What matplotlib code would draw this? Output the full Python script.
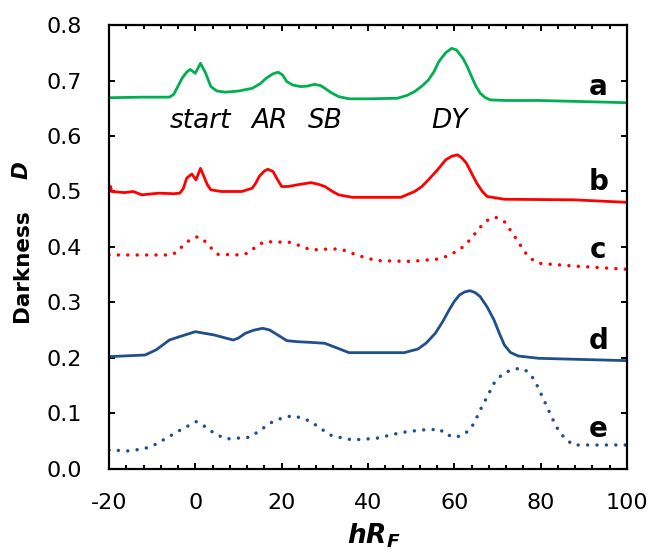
import matplotlib
matplotlib.use("Agg")
import matplotlib.pyplot as plt
from matplotlib.ticker import MultipleLocator, FormatStrFormatter

plt.rcParams['font.family'] = ['DejaVu Sans']
plt.rcParams['axes.unicode_minus'] = False
plt.rcParams['mathtext.fontset'] = 'custom'
plt.rcParams['mathtext.it'] = 'DejaVu Sans:italic:bold'
plt.rcParams['mathtext.rm'] = 'DejaVu Sans:bold'

# curve a (green, solid)
xa = [-20, -12, -6, -5, -4, -3, -2, -1.2, 0, 1.2, 2.4, 3.6, 5, 7, 10, 13.2, 15, 16.4, 18, 19.2, 20.2,
      21.2, 22.5, 24.4, 26, 27.6, 29, 30, 31.5, 33.2, 35.6, 40, 46.8, 49, 50.8, 52.5, 54, 55.3, 56.4,
      58, 59.4, 60.5, 62, 63, 64, 65, 66, 67.2, 68.4, 72, 79.6, 90, 100]
ya = [0.669, 0.670, 0.670, 0.675, 0.690, 0.705, 0.715, 0.720, 0.713, 0.731, 0.713, 0.689, 0.681, 0.679,
      0.681, 0.686, 0.694, 0.704, 0.712, 0.715, 0.710, 0.698, 0.692, 0.689, 0.690, 0.693, 0.691, 0.686,
      0.678, 0.671, 0.667, 0.667, 0.668, 0.673, 0.680, 0.690, 0.701, 0.716, 0.734, 0.750, 0.758, 0.755,
      0.740, 0.725, 0.707, 0.690, 0.677, 0.669, 0.665, 0.664, 0.664, 0.662, 0.660]

# curve b (red, solid)
xb = [-20, -19.6, -19.4, -16.4, -14.4, -12.4, -8.4, -5, -3.6, -2.8, -2, -0.8, 0.16, 1.2, 2, 2.8, 3.6,
      6, 10.8, 13.2, 14, 14.8, 16, 16.8, 18, 19, 20, 21.5, 23.6, 26.8, 28.5, 30, 31.8, 33.2, 36.4, 47.6,
      50.8, 52.5, 54, 56, 58, 59.5, 60.8, 61.8, 62.8, 64, 65.2, 66.5, 67.6, 71.6, 87.6, 100]
yb = [0.509, 0.509, 0.500, 0.498, 0.500, 0.494, 0.497, 0.496, 0.497, 0.505, 0.524, 0.5315, 0.521,
      0.5417, 0.527, 0.512, 0.503, 0.500, 0.500, 0.506, 0.515, 0.527, 0.537, 0.540, 0.536, 0.522, 0.509,
      0.509, 0.512, 0.516, 0.513, 0.509, 0.500, 0.494, 0.4895, 0.4895, 0.500, 0.509, 0.521, 0.538, 0.557,
      0.564, 0.566, 0.560, 0.551, 0.533, 0.515, 0.500, 0.491, 0.486, 0.485, 0.4805]

# curve c (red, dotted)
xc = [-20, -5.6, -4, -2.8, -1.2, 0.56, 1.8, 2.8, 4, 5.2, 10.8, 12.5, 14, 16, 19, 22, 24.4, 26.8, 30,
      33.2, 35.5, 37.2, 42, 50, 56.4, 58.5, 60.4, 62, 63.6, 65.2, 66.8, 68.2, 69.6, 71.6, 73.2, 74.8,
      76.2, 77.6, 79.6, 87.6, 100]
yc = [0.3856, 0.3856, 0.392, 0.4036, 0.413, 0.4186, 0.413, 0.4066, 0.395, 0.3868, 0.3856, 0.390,
      0.4006, 0.4096, 0.409, 0.4084, 0.4018, 0.3946, 0.396, 0.3964, 0.392, 0.3856, 0.3754, 0.374, 0.3784,
      0.384, 0.3916, 0.400, 0.4126, 0.428, 0.4426, 0.451, 0.4535, 0.4456, 0.428, 0.4096, 0.392, 0.3796,
      0.3706, 0.3658, 0.3598]

# curve d (blue, solid)
xd = [-20, -11.6, -9, -6, -3, 0, 4.4, 7, 8.8, 10, 11.6, 13.5, 15.6, 17.2, 19, 21.2, 23.6, 27, 30, 32.5,
      35.6, 48.4, 51.6, 53.5, 55.6, 57.2, 58.8, 60, 61.2, 62.4, 63.6, 64.8, 66, 67.6, 69.2, 70.4, 71.6,
      73, 74.8, 79.6, 100]
yd = [0.2024, 0.2054, 0.215, 0.2324, 0.240, 0.2474, 0.2414, 0.236, 0.2324, 0.236, 0.2445, 0.250,
      0.2535, 0.2505, 0.242, 0.2312, 0.2294, 0.228, 0.2265, 0.219, 0.2096, 0.2096, 0.2162, 0.227,
      0.2445, 0.264, 0.2865, 0.302, 0.3135, 0.319, 0.3213, 0.318, 0.3105, 0.292, 0.2685, 0.245, 0.2234,
      0.210, 0.2036, 0.1994, 0.1952]

# curve e (blue, dotted)
xe = [-20, -15.2, -11.6, -9, -6.8, -4.8, -2.8, -1, 0.24, 1.8, 3.2, 5.2, 7.2, 12.4, 14.8, 17.2, 19.8,
      22.4, 24.6, 26.8, 29.2, 31.6, 36.4, 42, 47.6, 52.4, 56.8, 57.6, 60.4, 62, 63.6, 64.8, 66, 67.6,
      69.2, 71, 72.8, 75, 76.5, 78, 79.2, 80.4, 82, 83.6, 85.6, 87.6, 100]
ye = [0.0342, 0.0324, 0.0372, 0.045, 0.0553, 0.064, 0.0733, 0.080, 0.0853, 0.079, 0.0703, 0.061,
      0.0541, 0.0571, 0.068, 0.0823, 0.091, 0.096, 0.092, 0.0853, 0.072, 0.060, 0.0523, 0.0553, 0.0655,
      0.0703, 0.0715, 0.0631, 0.0571, 0.062, 0.0703, 0.086, 0.1063, 0.130, 0.1544, 0.170, 0.1772,
      0.1814, 0.178, 0.1664, 0.150, 0.1303, 0.103, 0.0763, 0.055, 0.0432, 0.0432]

curve_names = ['a', 'b', 'c', 'd', 'e']
name_y = [0.674, 0.503, 0.380, 0.217, 0.058]

spot_names = ['start', 'AR', 'SB', 'DY']
spot_x = [1.1, 17.3, 30.2, 58.8]

green = '#00b050'
red = '#ff0000'
blue = '#204f8c'
dots = (0, (0.01, 2.7))

fig = plt.figure(figsize=(6.51, 5.52), dpi=100)
ax = fig.add_axes([0.1674, 0.1504, 0.7957, 0.8043])

ax.plot(xa, ya, color=green, lw=2.0, solid_joinstyle='round')
ax.plot(xb, yb, color=red, lw=2.0, solid_joinstyle='round')
ax.plot(xc, yc, color=red, lw=2.5, linestyle=dots, dash_capstyle='round')
ax.plot(xd, yd, color=blue, lw=2.0, solid_joinstyle='round')
ax.plot(xe, ye, color=blue, lw=2.5, linestyle=dots, dash_capstyle='round')

for i in range(len(curve_names)):
    ax.text(93.4, name_y[i], curve_names[i], fontsize=20, fontweight='bold',
            ha='center', va='baseline')
for i in range(len(spot_names)):
    ax.text(spot_x[i], 0.615, spot_names[i], fontsize=19, style='italic',
            ha='center', va='baseline')

ax.set_xlim(-20, 100)
ax.set_ylim(0, 0.8)
ax.xaxis.set_major_locator(MultipleLocator(20))
ax.xaxis.set_minor_locator(MultipleLocator(4))
ax.yaxis.set_major_locator(MultipleLocator(0.1))
ax.yaxis.set_major_formatter(FormatStrFormatter('%.1f'))

for s in ax.spines.values():
    s.set_linewidth(1.6)
ax.tick_params(axis='x', which='major', direction='in', top=True, length=4.5, width=1.4,
               labelsize=16, pad=17)
ax.tick_params(axis='x', which='minor', direction='in', top=True, length=3, width=1.4)
ax.tick_params(axis='y', which='major', direction='in', right=True, length=4, width=1.4,
               labelsize=16, pad=19.5)

# axis titles
fig.text(22/651, 1 - 266/552, 'Darkness', rotation=90, fontsize=15.5, fontweight='bold',
         ha='center', va='center')
fig.text(22/651, 1 - 170/552, 'D', rotation=90, fontsize=15.5, fontweight='bold', style='italic',
         ha='center', va='center')
fig.text(374/651, 9/552, r'$hR_F$', fontsize=19, ha='center', va='baseline')

fig.savefig('out.png', dpi=100)
